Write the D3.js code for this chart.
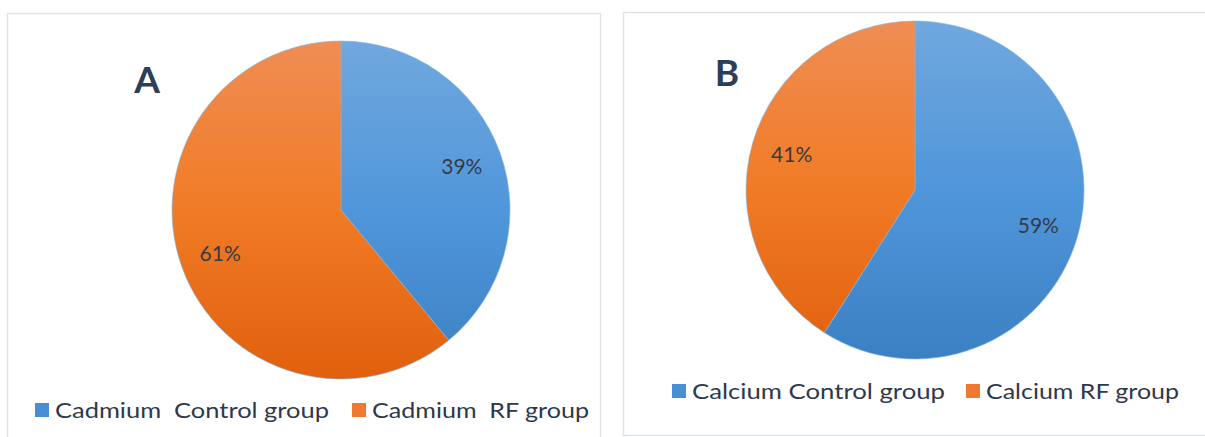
<!DOCTYPE html>
<html>
<head>
<meta charset="utf-8">
<script src="https://cdn.jsdelivr.net/npm/d3@7"></script>
<style>
  html, body { margin: 0; padding: 0; background: #fff; }
  svg { display: block; font-family: Lato, 'Open Sans', sans-serif; }
</style>
</head>
<body>
<svg id="chart" width="1205" height="437"></svg>
<script>
// panel A – cadmium
const cadmiumGroups = ['Cadmium  Control group', 'Cadmium  RF group'];
const cadmiumValues = [39, 61];
// panel B – calcium
const calciumGroups = ['Calcium Control group', 'Calcium RF group'];
const calciumValues = [59, 41];

const panelLetters = ['A', 'B'];

const svg = d3.select('#chart');
const defs = svg.append('defs');

const radius = 169;
const labelRadius = radius * 0.76;

const panels = [
  {
    letter: panelLetters[0], groups: cadmiumGroups, values: cadmiumValues,
    box: { x: 7.5, y: 13.5, w: 593, h: 440 },
    cx: 341, cy: 210, letterPos: [147, 93],
    legend: { y: 403, items: [{ x: 35, w: 274 }, { x: 352, w: 217 }] }
  },
  {
    letter: panelLetters[1], groups: calciumGroups, values: calciumValues,
    box: { x: 623.5, y: 12.5, w: 590, h: 423 },
    cx: 915, cy: 190, letterPos: [727, 86],
    legend: { y: 384, items: [{ x: 672, w: 253 }, { x: 966, w: 193 }] }
  }
];

const fills = [
  { id: 'blue', top: '#70a8de', mid: '#5096da', bottom: '#3b80c3', key: '#4a8ed3' },
  { id: 'orange', top: '#ef8d54', mid: '#f17b25', bottom: '#e1600d', key: '#ed7a30' }
];

const pie = d3.pie().sort(null).value((d) => d);
const arc = d3.arc().innerRadius(0).outerRadius(radius);
const labelArc = d3.arc().innerRadius(labelRadius).outerRadius(labelRadius);

panels.forEach((p, pi) => {
  // light frame round each panel
  svg.append('rect')
    .attr('x', p.box.x)
    .attr('y', p.box.y)
    .attr('width', p.box.w)
    .attr('height', p.box.h)
    .attr('fill', 'none')
    .attr('stroke', '#dfe4ea')
    .attr('stroke-width', 1.5);

  // vertical gradients spanning the pie (local coords of the pie group)
  fills.forEach((f) => {
    const grad = defs.append('linearGradient')
      .attr('id', `${f.id}-${pi}`)
      .attr('gradientUnits', 'userSpaceOnUse')
      .attr('x1', 0).attr('x2', 0)
      .attr('y1', -radius).attr('y2', radius);
    grad.append('stop').attr('offset', '0%').attr('stop-color', f.top);
    grad.append('stop').attr('offset', '50%').attr('stop-color', f.mid);
    grad.append('stop').attr('offset', '100%').attr('stop-color', f.bottom);
  });

  const g = svg.append('g').attr('transform', `translate(${p.cx},${p.cy})`);
  const arcs = pie(p.values);

  g.selectAll('path.slice')
    .data(arcs)
    .enter()
    .append('path')
    .attr('class', 'slice')
    .attr('d', arc)
    .attr('fill', (d, i) => `url(#${fills[i].id}-${pi})`)
    .attr('stroke', '#7fb6e6')
    .attr('stroke-width', 0.6);

  g.selectAll('text.pct')
    .data(arcs)
    .enter()
    .append('text')
    .attr('class', 'pct')
    .attr('transform', (d) => `translate(${labelArc.centroid(d)})`)
    .attr('text-anchor', 'middle')
    .attr('dy', '0.35em')
    .attr('font-size', 21)
    .attr('fill', '#353b45')
    .text((d) => `${d.data}%`);

  svg.append('text')
    .attr('x', p.letterPos[0])
    .attr('y', p.letterPos[1])
    .attr('text-anchor', 'middle')
    .attr('font-size', 37)
    .attr('font-weight', 'bold')
    .attr('fill', '#2c3e58')
    .text(p.letter);

  // legend
  const leg = svg.append('g').attr('class', 'legend');
  p.groups.forEach((name, i) => {
    const it = p.legend.items[i];
    leg.append('rect')
      .attr('x', it.x)
      .attr('y', p.legend.y)
      .attr('width', 14)
      .attr('height', 14)
      .attr('fill', fills[i].key);
    leg.append('text')
      .attr('x', it.x + 20)
      .attr('y', p.legend.y + 15)
      .attr('font-size', 21)
      .attr('fill', '#2f384b')
      .attr('textLength', it.w)
      .attr('lengthAdjust', 'spacingAndGlyphs')
      .style('white-space', 'pre')
      .text(name);
  });
});
</script>
</body>
</html>
